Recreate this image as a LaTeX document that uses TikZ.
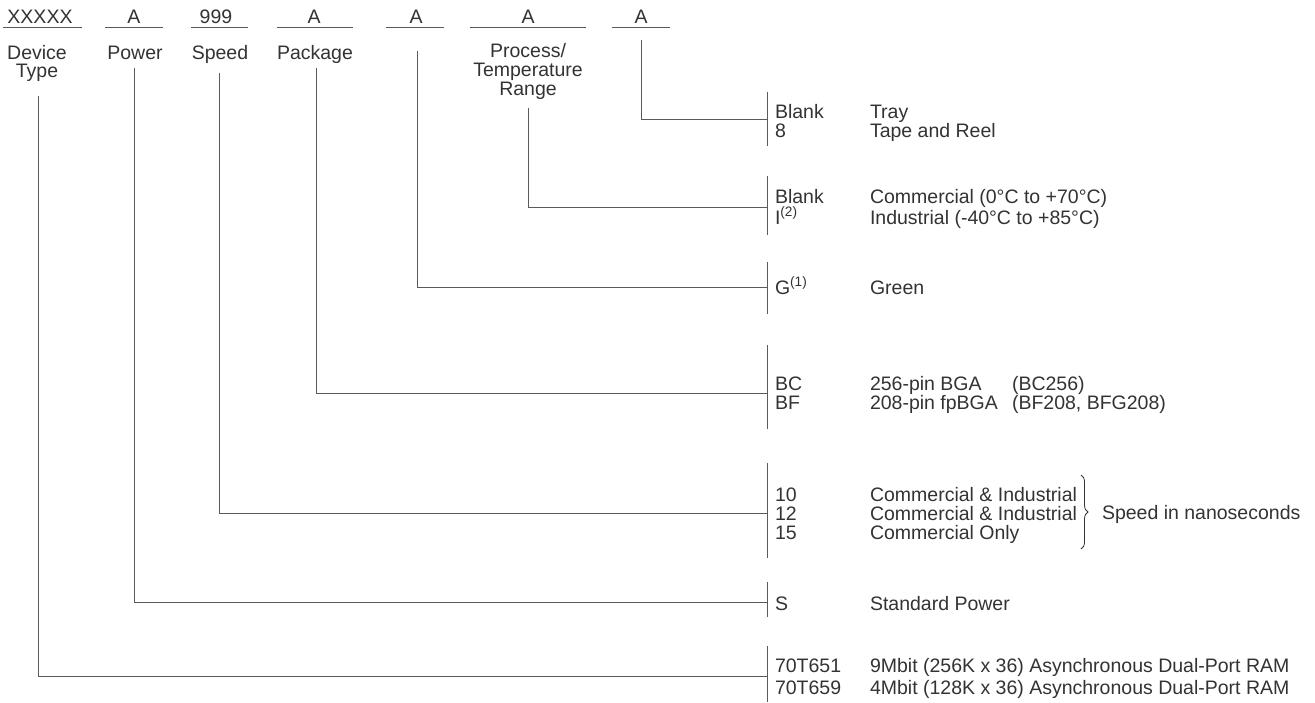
\documentclass[tikz,border=0pt]{standalone}
\usepackage{fontspec}
\setmainfont{Liberation Sans}
\usetikzlibrary{decorations.pathreplacing}
\definecolor{txtc}{HTML}{333333}
\definecolor{linec}{HTML}{5A5A5A}
\newcommand{\fsz}{\fontsize{19.5}{20}\selectfont}
\begin{document}
\begin{tikzpicture}[x=1pt,y=-1pt,
  txt/.style={inner sep=0pt, outer sep=0pt, anchor=base west, text=txtc, font=\fsz},
  ctxt/.style={inner sep=0pt, outer sep=0pt, anchor=base, text=txtc, font=\fsz},
  ln/.style={draw=linec, line width=1pt},
  bar/.style={draw=linec, line width=1pt}]
\useasboundingbox[fill=white] (0,0) rectangle (1315,702);

% ---- top row: fields and underlines
\node[ctxt] (f1) at (40,23) {XXXXX};
\node[ctxt] (f2) at (134,23) {A};
\node[ctxt] (f3) at (216,23) {999};
\node[ctxt] (f4) at (314,23) {A};
\node[ctxt] (f5) at (416,23) {A};
\node[ctxt] (f6) at (528,23) {A};
\node[ctxt] (f7) at (641,23) {A};
\draw[ln] (3,27) -- (82,27);
\draw[ln] (105,27) -- (163,27);
\draw[ln] (191,27) -- (248,27);
\draw[ln] (277,27) -- (353,27);
\draw[ln] (386,27) -- (444,27);
\draw[ln] (470,27) -- (586,27);
\draw[ln] (612,27) -- (670,27);

% ---- field names
\node[ctxt] (n1a) at (37,59) {Device};
\node[ctxt] (n1b) at (37,77) {Type};
\node[ctxt] (n2) at (135,59) {Power};
\node[ctxt] (n3) at (220,59) {Speed};
\node[ctxt] (n4) at (315,59) {Package};
\node[ctxt] (n6a) at (528,57) {Process/};
\node[ctxt] (n6b) at (528,76) {Temperature};
\node[ctxt] (n6c) at (528,95) {Range};

% ---- connector start points
\coordinate (s1) at (38,96);
\coordinate (s2) at (134,68);
\coordinate (s3) at (219,73);
\coordinate (s4) at (316,68);
\coordinate (s5) at (417,51);
\coordinate (s6) at (528,108);
\coordinate (s7) at (641,40);

% ---- bars on the right
\coordinate (b7) at (767,119);
\coordinate (b6) at (767,207);
\coordinate (b5) at (767,287);
\coordinate (b4) at (767,393);
\coordinate (b3) at (767,513);
\coordinate (b2) at (767,602);
\coordinate (b1) at (767,676);

\coordinate (b7t) at (767,92);  \coordinate (b7b) at (767,146);
\coordinate (b6t) at (767,176); \coordinate (b6b) at (767,235);
\coordinate (b5t) at (767,262); \coordinate (b5b) at (767,314);
\coordinate (b4t) at (767,345); \coordinate (b4b) at (767,429);
\coordinate (b3t) at (767,463); \coordinate (b3b) at (767,558);
\coordinate (b2t) at (767,582); \coordinate (b2b) at (767,617);
\coordinate (b1t) at (767,646); \coordinate (b1b) at (767,702);
\foreach \b in {1,...,7} {\draw[bar] (b\b t) -- (b\b b);}

% ---- connectors
\draw[ln] (s1) |- (b1);
\draw[ln] (s2) |- (b2);
\draw[ln] (s3) |- (b3);
\draw[ln] (s4) |- (b4);
\draw[ln] (s5) |- (b5);
\draw[ln] (s6) |- (b6);
\draw[ln] (s7) |- (b7);

% ---- option texts
\node[txt] (c7a) at (775,118) {Blank};
\node[txt] (c7b) at (775,137) {8};
\node[txt] (d7a) at (870,118) {Tray};
\node[txt] (d7b) at (870,137) {Tape and Reel};

\node[txt] (c6a) at (775,203) {Blank};
\node[txt] (c6b) at (775,224) {I\textsuperscript{(2)}};
\node[txt] (d6a) at (870,203) {Commercial (0°C to +70°C)};
\node[txt] (d6b) at (870,224) {Industrial (-40°C to +85°C)};

\node[txt] (c5) at (775,294) {G\textsuperscript{(1)}};
\node[txt] (d5) at (870,294) {Green};

\node[txt] (c4a) at (775,390) {BC};
\node[txt] (c4b) at (775,409) {BF};
\node[txt] (d4a) at (870,390) {256-pin BGA};
\node[txt] (d4b) at (870,409) {208-pin fpBGA};
\node[txt] (e4a) at (1012,390) {(BC256)};
\node[txt] (e4b) at (1012,409) {(BF208, BFG208)};

\node[txt] (c3a) at (775,501) {10};
\node[txt] (c3b) at (775,520) {12};
\node[txt] (c3c) at (775,539) {15};
\node[txt] (d3a) at (870,501) {Commercial \& Industrial};
\node[txt] (d3b) at (870,520) {Commercial \& Industrial};
\node[txt] (d3c) at (870,539) {Commercial Only};
\coordinate (brt) at (1081,475);
\coordinate (brb) at (1081,549);
\draw[txtc, line width=0.8pt, decorate, decoration={brace, amplitude=7pt}] (brt) -- (brb);
\node[txt] (sp) at (1102,519) {Speed in nanoseconds};

\node[txt] (c2) at (775,610) {S};
\node[txt] (d2) at (870,610) {Standard Power};

\node[txt] (c1a) at (775,672) {70T651};
\node[txt] (c1b) at (775,694) {70T659};
\node[txt] (d1a) at (870,672) {9Mbit (256K x 36) Asynchronous Dual-Port RAM};
\node[txt] (d1b) at (870,694) {4Mbit (128K x 36) Asynchronous Dual-Port RAM};
\end{tikzpicture}
\end{document}
